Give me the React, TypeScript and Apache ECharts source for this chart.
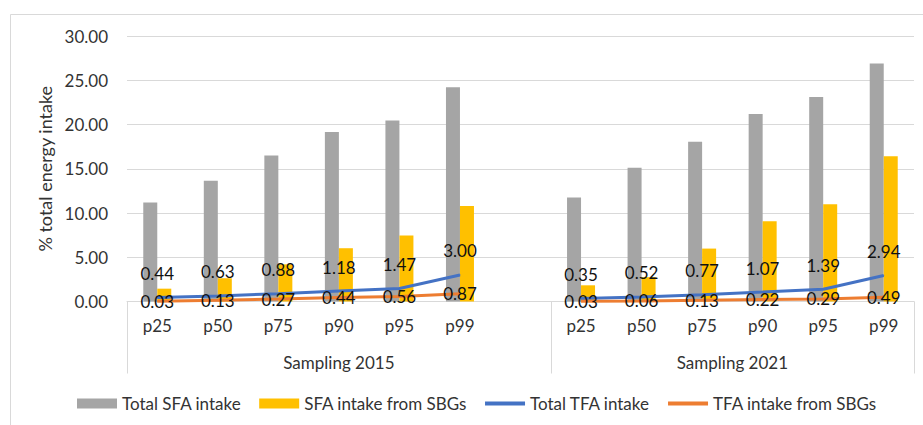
import React, { useEffect, useRef } from "react";
import * as echarts from "echarts";

const categories = ["p25", "p50", "p75", "p90", "p95", "p99", "", "p25", "p50", "p75", "p90", "p95", "p99"];
const groups = ["Sampling 2015", "Sampling 2021"];
const groupSizes = [7, 6];
const totalSFA = [11.2, 13.65, 16.5, 19.15, 20.45, 24.2, null, 11.75, 15.1, 18.05, 21.2, 23.1, 26.9];
const sfaSBG = [1.45, 2.63, 4.2, 6.02, 7.45, 10.8, null, 1.83, 2.75, 5.98, 9.08, 11.0, 16.4];
const totalTFA = [0.44, 0.63, 0.88, 1.18, 1.47, 3.0, null, 0.35, 0.52, 0.77, 1.07, 1.39, 2.94];
const tfaSBG = [0.03, 0.13, 0.27, 0.44, 0.56, 0.87, null, 0.03, 0.06, 0.13, 0.22, 0.29, 0.49];

const FONT = "Lato";
const AXIS_COLOR = "#333333";
const LABEL_COLOR = "#111111";
const LINE_GRAY = "#d9d9d9";

export default function App() {
  const ref = useRef<HTMLDivElement>(null);
  useEffect(() => {
    if (!ref.current) return;
    const chart = echarts.init(ref.current, undefined, { renderer: "svg" });
    const fmt = (p: any) => (p.value == null ? "" : Number(p.value).toFixed(2));
    chart.setOption({
      animation: false,
      textStyle: { fontFamily: FONT },
      grid: { left: 127, right: 9, top: 36, bottom: 123.5, containLabel: false },
      legend: {
        left: 72,
        top: 390,
        itemWidth: 40,
        itemHeight: 10,
        itemGap: 18,
        textStyle: { fontFamily: FONT, fontSize: 17, color: AXIS_COLOR },
        data: [
          { name: "Total SFA intake", icon: "rect" },
          { name: "SFA intake from SBGs", icon: "rect" },
          { name: "Total TFA intake", icon: "path://M0,0 L40,0 L40,4 L0,4 Z" },
          { name: "TFA intake from SBGs", icon: "path://M0,0 L40,0 L40,4 L0,4 Z" },
        ],
      },
      xAxis: {
        type: "category",
        data: categories,
        axisTick: { show: false },
        axisLine: { lineStyle: { color: LINE_GRAY, width: 1 } },
        axisLabel: { color: AXIS_COLOR, fontSize: 17, margin: 15, interval: 0, fontFamily: FONT },
      },
      yAxis: {
        type: "value",
        min: 0,
        max: 30,
        interval: 5,
        name: "% total energy intake",
        nameLocation: "middle",
        nameRotate: 90,
        nameGap: 68,
        nameTextStyle: { color: AXIS_COLOR, fontSize: 18, fontFamily: FONT },
        axisLine: { show: false },
        axisTick: { show: false },
        axisLabel: { color: AXIS_COLOR, fontSize: 17, margin: 19, fontFamily: FONT, formatter: (v: number) => v.toFixed(2) },
        splitLine: { lineStyle: { color: LINE_GRAY, width: 1 } },
      },
      series: [
        {
          name: "Total SFA intake",
          type: "bar",
          data: totalSFA,
          barWidth: 14,
          barGap: "0%",
          itemStyle: { color: "#a5a5a5" },
        },
        {
          name: "SFA intake from SBGs",
          type: "bar",
          data: sfaSBG,
          barWidth: 14,
          barGap: "0%",
          itemStyle: { color: "#ffc000" },
        },
        {
          name: "Total TFA intake",
          type: "line",
          data: totalTFA,
          symbol: "circle",
          symbolSize: 1,
          lineStyle: { color: "#4472c4", width: 3 },
          itemStyle: { color: "#4472c4" },
          label: { show: true, position: "top", distance: 15, fontSize: 17, color: LABEL_COLOR, fontFamily: FONT, formatter: fmt },
        },
        {
          name: "TFA intake from SBGs",
          type: "line",
          data: tfaSBG,
          symbol: "circle",
          symbolSize: 1,
          lineStyle: { color: "#ed7d31", width: 3 },
          itemStyle: { color: "#ed7d31" },
          label: { show: true, position: "inside", fontSize: 17, color: LABEL_COLOR, fontFamily: FONT, formatter: fmt },
        },
      ],
    });

    // Multi-level category axis: group dividers and group labels
    const px = (i: number) => chart.convertToPixel({ xAxisIndex: 0 }, i) as number;
    const y0 = chart.convertToPixel({ yAxisIndex: 0 }, 0) as number;
    const step = px(1) - px(0);
    const bounds: number[] = [px(0) - step / 2];
    let acc = 0;
    groupSizes.forEach((n) => {
      acc += n;
      bounds.push(px(acc - 1) + step / 2);
    });
    const elements: any[] = [
      {
        type: "rect",
        shape: { x: 10.5, y: 14.5, width: 940, height: 440 },
        style: { fill: "none", stroke: LINE_GRAY, lineWidth: 1 },
        silent: true,
        z: -10,
      },
    ];
    bounds.forEach((b) => {
      elements.push({
        type: "line",
        shape: { x1: Math.round(b) + 0.5, y1: y0, x2: Math.round(b) + 0.5, y2: y0 + 72 },
        style: { stroke: LINE_GRAY, lineWidth: 1 },
        silent: true,
      });
    });
    groups.forEach((g, i) => {
      elements.push({
        type: "text",
        x: (bounds[i] + bounds[i + 1]) / 2,
        y: y0 + 61,
        style: { text: g, fill: AXIS_COLOR, fontSize: 17, fontFamily: FONT, align: "center", verticalAlign: "middle" },
        silent: true,
      });
    });
    chart.setOption({ graphic: { elements } });

    return () => chart.dispose();
  }, []);
  return <div ref={ref} style={{ position: "absolute", left: 0, top: 0, width: 923, height: 425 }} />;
}
